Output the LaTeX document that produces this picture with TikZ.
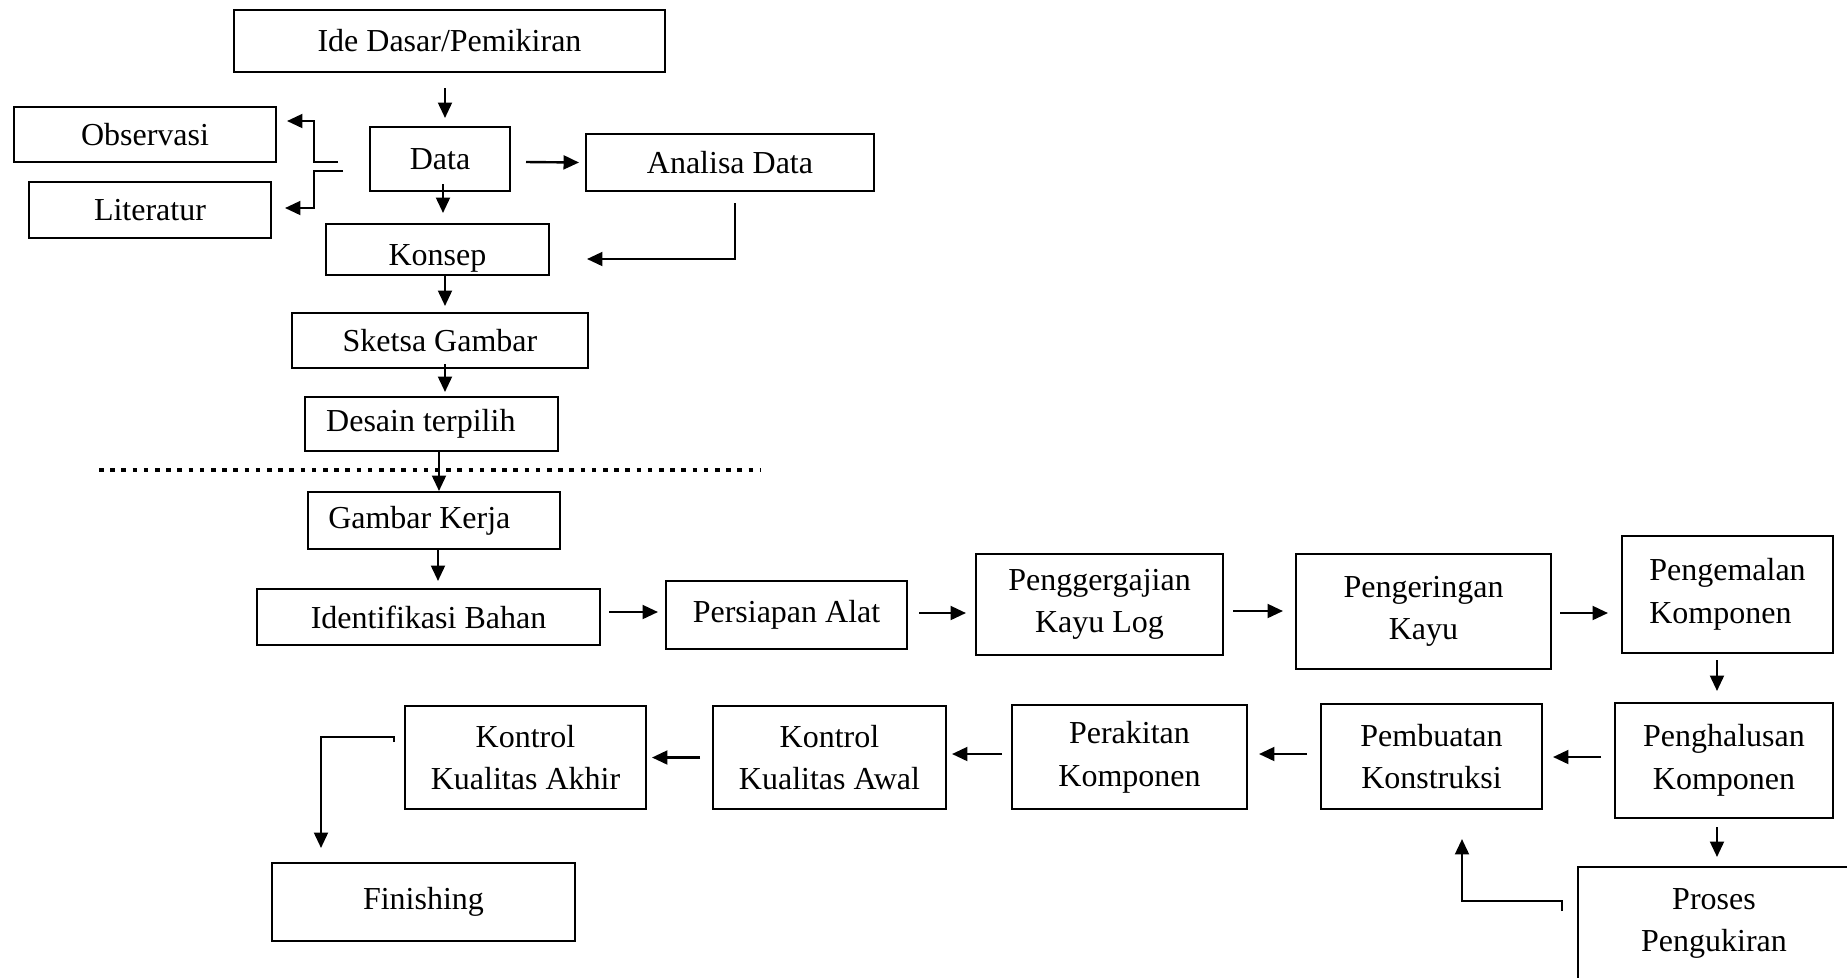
\documentclass[tikz,border=0pt]{standalone}
\usepackage{fontspec}
\setmainfont{Liberation Serif}
\usetikzlibrary{calc,positioning,arrows.meta}

\begin{document}
\begin{tikzpicture}[x=0.375pt,y=-0.375pt]
\def\px{0.375pt}
\tikzset{box/.style 2 args={shape=rectangle,draw,line width=0.75pt,align=center,
  font=\fontsize{12pt}{16pt}\selectfont,minimum width=#1*\px,minimum height=#2*\px,inner sep=0pt}}
\tikzset{arr/.style={line width=0.9pt,-{Triangle[length=5.8pt,width=5.2pt]}}}
\tikzset{sep/.style={line width=1.75pt,dash pattern=on 1.75pt off 2.45pt}}
\useasboundingbox (0,0) rectangle (1847,977);
%
\node at (449.5,41) [box={431}{62}] (ide) {Ide Dasar/Pemikiran};
\node at (145,134.5) [box={262}{55}] (obs) {Observasi};
\node at (150,210) [box={242}{56}] (lit) {Literatur};
\node at (440,159) [box={140}{64}] (data) {Data};
\node at (730,162.5) [box={288}{57}] (analisa) {Analisa Data};
\node at (437.5,249.5) [box={223}{51},text height=12pt,text depth=0pt] (konsep) {Konsep};
\node at (440,340.5) [box={296}{55}] (sketsa) {Sketsa Gambar};
\node at (431.5,424) [box={253}{54}] (desain) {Desain terpilih\hspace{8pt}};
\node at (434,520.5) [box={252}{57}] (gambar) {Gambar Kerja\hspace{11pt}};
%
\draw[arr] ($(ide.south)+(-4.5,15)$) -- ($(data.north)+(5,-8)$);
\draw[arr] ($(data.west)+(-31,3)$) -| ($(obs.east)+(37,-13.5)$) -- ($(obs.east)+(10,-13.5)$);
\draw[arr] ($(data.west)+(-26,12)$) -| ($(lit.east)+(42,-2)$) -- ($(lit.east)+(13,-2)$);
\draw[arr] ($(data.east)+(15,3)$) -- ($(analisa.west)+(-6,0)$);
\draw[arr] ($(data.south)+(3,-8)$) -- ($(konsep.north)+(5.5,-10)$);
\draw[arr] ($(analisa.south)+(5,11)$) |- ($(konsep.east)+(37,9.5)$);
\draw[arr] ($(konsep.south)+(7.5,0)$) -- ($(sketsa.north)+(5,-6)$);
\draw[arr] ($(sketsa.south)+(5,-5)$) -- ($(desain.north)+(13.5,-4)$);
\draw[sep] (99,470) -- (760,470);
\draw[arr] ($(desain.south)+(7.5,0)$) -- ($(gambar.north)+(5,0)$);
%
\node at (428.5,617) [box={343}{56}] (ident) {Identifikasi Bahan};
\node at (786.5,615) [box={241}{68}] (persiapan) {Persiapan Alat};
\node at (1099.5,604.5) [box={247}{101}] (gergaji) {Penggergajian\\Kayu Log};
\node at (1423.5,611.5) [box={255}{115}] (kering) {Pengeringan\\Kayu};
\node at (1727.5,594.5) [box={211}{117},align=left] (kemal) {Pengemalan\\Komponen};
\node at (1724,760.5) [box={218}{115}] (halus) {Penghalusan\\Komponen};
\node at (1431.5,756.5) [box={221}{105}] (buat) {Pembuatan\\Konstruksi};
\node at (1129.5,757) [box={235}{104}] (rakit) {Perakitan\\Komponen};
\node at (829.5,757.5) [box={233}{103}] (awal) {Kontrol\\Kualitas Awal};
\node at (525.5,757.5) [box={241}{103}] (akhir) {Kontrol\\Kualitas Akhir};
\node at (423.5,902) [box={303}{78}] (finish) {Finishing};
\node at (1714,923.5) [box={272}{113}] (proses) {Proses\\Pengukiran};
%
\draw[arr] ($(gambar.south)+(4,0)$) -- ($(ident.north)+(9.5,-7)$);
\draw[arr] ($(ident.east)+(8,-5)$) -- ($(persiapan.west)+(-7,-3)$);
\draw[arr] ($(persiapan.east)+(11,-2)$) -- ($(gergaji.west)+(-9,8.5)$);
\draw[arr] ($(gergaji.east)+(9,6.5)$) -- ($(kering.west)+(-12,-0.5)$);
\draw[arr] ($(kering.east)+(8,1.5)$) -- ($(kemal.west)+(-13,18.5)$);
\draw[arr] ($(kemal.south)+(-10.5,6)$) -- ($(halus.north)+(-7,-11)$);
\draw[arr] ($(halus.south)+(-7,8)$) -- ($(proses.north)+(3,-9)$);
\draw[arr] ($(halus.west)+(-13,-3.5)$) -- ($(buat.east)+(10,0.5)$);
\draw[arr] ($(buat.west)+(-13,-2.5)$) -- ($(rakit.east)+(11,-3)$);
\draw[arr] ($(rakit.west)+(-9,-3)$) -- ($(awal.east)+(5,-3.5)$);
\draw[arr] ($(awal.west)+(-12,0)$) -- ($(akhir.east)+(5,0)$);
\draw[arr] ($(akhir.west)+(-10,-15.5)$) -- ($(akhir.west)+(-10,-20.5)$) -| ($(finish.north)+(-102.5,-14)$);
\draw[arr] ($(proses.north west)+(-15,45)$) -- ($(proses.north west)+(-15,35)$) -| ($(buat.south)+(30.5,29)$);
\end{tikzpicture}
\end{document}
